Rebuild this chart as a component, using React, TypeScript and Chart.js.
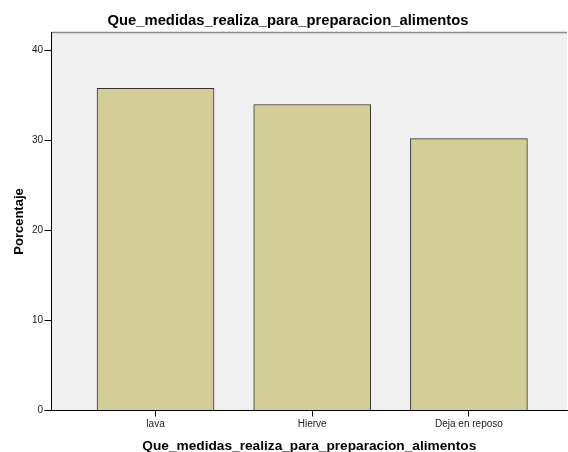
import React, { useEffect, useRef } from "react";
import { Chart, registerables } from "chart.js";

Chart.register(...registerables);

const chartTitle = "Que_medidas_realiza_para_preparacion_alimentos";
const xTitle = "Que_medidas_realiza_para_preparacion_alimentos";
const yTitle = "Porcentaje";
const categories = ["lava", "Hierve", "Deja en reposo"];
const percentages = [35.8, 34.0, 30.2];
const yTicks = [0, 10, 20, 30, 40];

const FONT = "'Liberation Sans', Arial, sans-serif";

const plotBg = {
  id: "plotBg",
  beforeDraw(chart: any) {
    const { ctx, chartArea } = chart;
    ctx.save();
    ctx.fillStyle = "#f0f0f0";
    ctx.fillRect(chartArea.left, chartArea.top, chartArea.right - chartArea.left, chartArea.bottom - chartArea.top);
    ctx.strokeStyle = "#8a8a8a";
    ctx.lineWidth = 1.5;
    ctx.beginPath();
    ctx.moveTo(chartArea.left, chartArea.top);
    ctx.lineTo(chartArea.right, chartArea.top);
    ctx.stroke();
    ctx.restore();
  },
};

export default function App() {
  const ref = useRef<HTMLCanvasElement>(null);

  useEffect(() => {
    document.body.style.margin = "0";
    const canvas = ref.current;
    if (!canvas) return;
    const chart = new Chart(canvas, {
      type: "bar",
      data: {
        datasets: [
          {
            data: categories.map((c, i) => ({ x: i + 1, y: percentages[i] })),
            backgroundColor: "#d3ce98",
            borderColor: "#333333",
            borderWidth: 1,
            barThickness: 117,
          },
        ],
      },
      options: {
        responsive: false,
        animation: false,
        devicePixelRatio: 1,
        layout: { padding: { left: 9, right: 1, top: 0, bottom: 0 } },
        plugins: {
          legend: { display: false },
          tooltip: { enabled: false },
          title: {
            display: true,
            text: chartTitle,
            color: "#000",
            font: { family: FONT, size: 14.8, weight: "bold", lineHeight: 1.2 },
            padding: { top: 12, bottom: 2.7 },
          },
        },
        scales: {
          x: {
            type: "linear",
            offset: false,
            min: 0.336,
            max: 3.626,
            afterBuildTicks: (s: any) => {
              s.ticks = categories.map((_, i) => ({ value: i + 1 }));
            },
            afterFit: (s: any) => {
              s.height = 41.5;
            },
            grid: {
              display: true,
              offset: false,
              drawOnChartArea: false,
              drawTicks: true,
              tickLength: 6,
              color: "#000",
            },
            border: { display: true, color: "#000", width: 1 },
            ticks: {
              autoSkip: false,
              maxRotation: 0,
              padding: 1.5,
              color: "#222",
              font: { family: FONT, size: 10 },
              callback: (v: any) => categories[Math.round(v) - 1] ?? "",
            },
            title: {
              display: true,
              text: xTitle,
              color: "#000",
              font: { family: FONT, size: 13.7, weight: "bold", lineHeight: 1 },
              padding: { top: 0, bottom: -1.5 },
            },
          },
          y: {
            min: 0,
            max: 42,
            afterBuildTicks: (s: any) => {
              s.ticks = yTicks.map((v) => ({ value: v }));
            },
            afterFit: (s: any) => {
              s.width = 42.5;
            },
            grid: {
              display: true,
              drawOnChartArea: false,
              drawTicks: true,
              tickLength: 7,
              color: "#000",
            },
            border: { display: true, color: "#000", width: 1 },
            ticks: {
              padding: 1.5,
              color: "#222",
              font: { family: FONT, size: 10 },
            },
            title: {
              display: true,
              text: yTitle,
              color: "#000",
              font: { family: FONT, size: 13, weight: "bold", lineHeight: 1 },
              padding: { top: 4, bottom: 0 },
            },
          },
        },
      } as any,
      plugins: [plotBg],
    });
    return () => chart.destroy();
  }, []);

  return (
    <div style={{ width: 568, height: 452, background: "#fff" }}>
      <canvas ref={ref} width={568} height={452} style={{ display: "block" }} />
    </div>
  );
}
